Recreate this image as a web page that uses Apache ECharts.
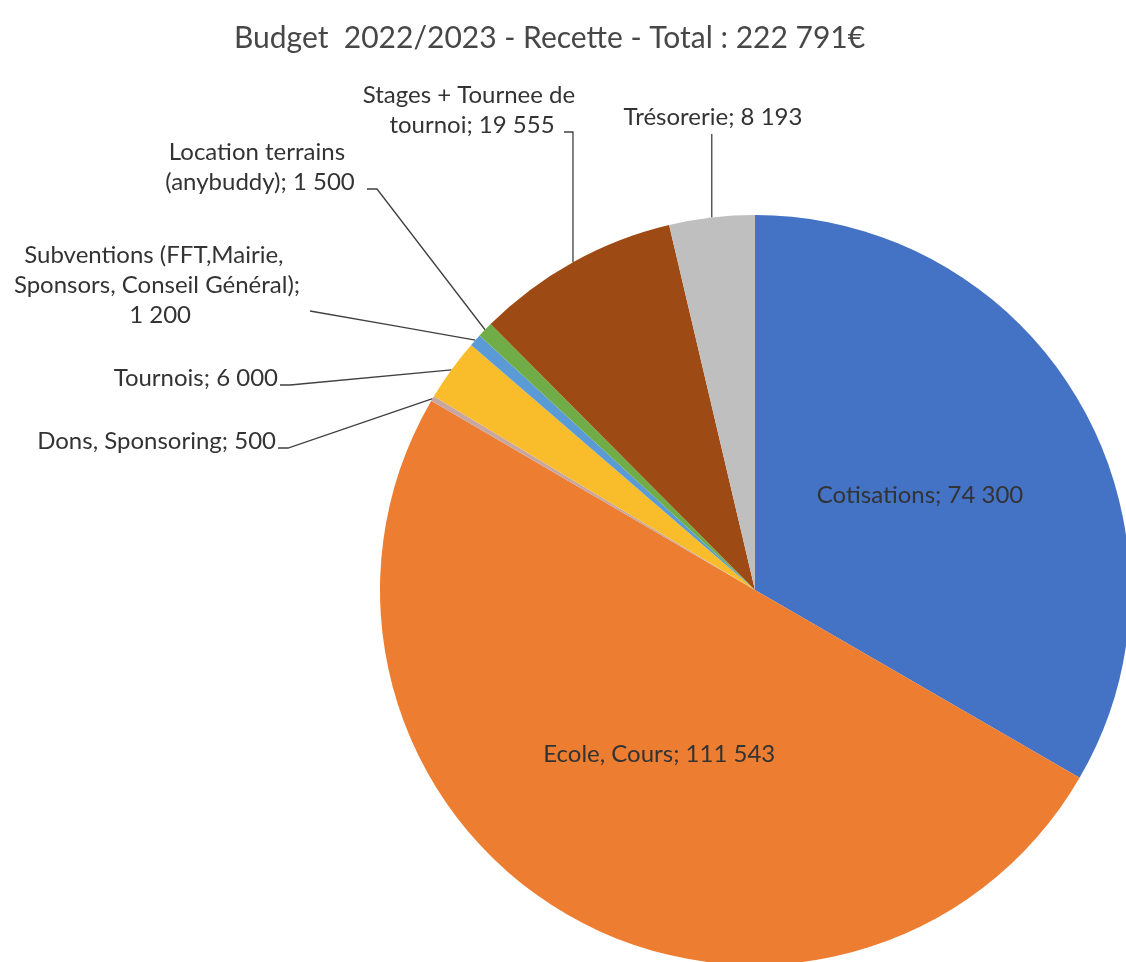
<!DOCTYPE html>
<html><head><meta charset="utf-8">
<script src="https://cdn.jsdelivr.net/npm/echarts@6/dist/echarts.min.js"></script>
<style>html,body{margin:0;padding:0;background:#fff;}#c{width:1126px;height:962px;}</style>
</head><body><div id="c"></div>
<script>
const categories = ['Cotisations','Ecole, Cours','Dons, Sponsoring','Tournois','Subventions (FFT,Mairie, Sponsors, Conseil Général)','Location terrains (anybuddy)','Stages + Tournee de tournoi','Trésorerie'];
const values = [74300,111543,500,6000,1200,1500,19555,8193];
const colors = ['#4472C4','#ED7D31','#C9A7A0','#F9BD2B','#5B9BD5','#70AD47','#9E4A14','#BFBFBF'];
const titleText = 'Budget  2022/2023 - Recette - Total : 222 791€';

// pie geometry
const CX = 755, CY = 590, R = 375;
const LH = 30; // label line height
// label placement: [x, y, align, wrapWidth, guideStyle] (null = inside the slice)
const labelPos = [null,null,
  [276,441,'right',0,'stub'],
  [278,378,'right',0,'stub'],
  [157,285,'center',310,'side'],
  [260,167,'center',210,'stub'],
  [472,110,'center',260,'elbow'],
  [713,117,'center',0,'vertical']];

function fmt(v){return String(v).replace(/\B(?=(\d{3})+(?!\d))/g,' ');}
const total = values.reduce((a,b)=>a+b,0);
// anchor on the arc at the middle of each slice (clockwise from 12 o'clock)
function anchor(i){
  let before = 0; for(let k=0;k<i;k++) before += values[k];
  const a = (before + values[i]/2)/total*2*Math.PI;
  return [CX + R*Math.sin(a), CY - R*Math.cos(a)];
}

const data = categories.map((n,i)=>{
  const p = labelPos[i];
  const item = {name:n, value:values[i], itemStyle:{color:colors[i]}};
  if(p){
    item.label = {position:'outside'};
    if(p[3]) { item.label.width = p[3]; item.label.overflow = 'break'; }
    item.labelLine = {show:true};
  } else {
    item.label = {position:'inside'};
    item.labelLine = {show:false};
  }
  return item;
});
const chart = echarts.init(document.getElementById('c'));
chart.setOption({
  backgroundColor:'#fff',
  animation:false,
  title:{text:titleText,left:229,top:18,textStyle:{fontFamily:'Lato',fontSize:30,fontWeight:'normal',color:'#474747'}},
  series:[{
    type:'pie',
    center:[CX,CY],
    radius:R,
    startAngle:90,
    clockwise:true,
    avoidLabelOverlap:false,
    itemStyle:{borderWidth:0},
    label:{show:true,fontFamily:'Lato',fontSize:24,color:'#333333',lineHeight:LH,
      formatter:p=>p.name+'; '+fmt(p.value)},
    labelLine:{lineStyle:{color:'#404040',width:1.3},length:20,length2:10},
    labelLayout:function(params){
      const i = params.dataIndex;
      const p = labelPos[i];
      if(!p) return {};
      const w = params.labelRect.width, h = params.labelRect.height;
      const left = p[2]==='right' ? p[0]-w : (p[2]==='center' ? p[0]-w/2 : p[0]);
      const top = p[1]-h/2, right = left+w, bottom = top+h;
      const a = anchor(i);
      let pts;
      if(p[4]==='vertical'){
        pts = [a,[a[0],(a[1]+bottom)/2],[a[0],bottom+2]];
      } else if(p[4]==='elbow'){
        const yb = bottom - 8;
        pts = [a,[a[0],yb],[a[0]-9,yb]];
      } else if(p[4]==='side'){
        const ys = bottom - LH/2 - 4;
        pts = [a,[(a[0]+right)/2,(a[1]+ys)/2],[right-2,ys]];
      } else {
        const yb = bottom - 8;
        pts = [a,[right+12,yb],[right+2,yb]];
      }
      return {x:p[0],y:p[1],align:p[2],verticalAlign:'middle',labelLinePoints:pts};
    },
    data:data
  }]
});
</script></body></html>
